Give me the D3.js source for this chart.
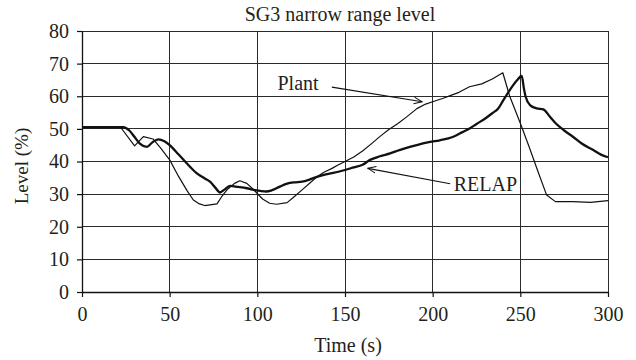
<!DOCTYPE html>
<html>
<head>
<meta charset="utf-8">
<script src="https://cdn.jsdelivr.net/npm/d3@7/dist/d3.min.js"></script>
<style>
  html, body { margin: 0; padding: 0; background: #fff; }
  svg { display: block; }
  text { font-family: "Liberation Serif", "Times New Roman", serif; fill: #231f20; }
</style>
</head>
<body>
<svg id="chart" width="636" height="360"></svg>
<script>
// SG3 narrow range level: measured plant data vs. RELAP simulation
const title = "SG3 narrow range level";
const xLabel = "Time (s)";
const yLabel = "Level (%)";
const xTicks = [0, 50, 100, 150, 200, 250, 300];
const yTicks = [0, 10, 20, 30, 40, 50, 60, 70, 80];

const plantTime = [0, 22, 30, 35, 40.5, 45, 50, 55, 60, 63.5, 67, 70, 74, 77, 80, 83, 87, 90, 94, 97, 100, 103, 107, 111, 117, 121, 125.5, 130, 134, 138, 142.6, 146, 150, 155, 160, 165, 170, 175, 180, 185, 191, 196, 200, 206, 210, 215, 221, 228, 234, 240, 244, 250, 255, 260, 265, 270, 280, 290, 300];
const plantLevel = [50.5, 50.5, 44.8, 47.6, 46.9, 44, 40.5, 35.5, 31, 28.2, 27, 26.5, 26.8, 27, 29.5, 31.5, 33.3, 34.1, 33.3, 31.8, 30.2, 28.5, 27.2, 26.9, 27.4, 29.2, 31.3, 33.4, 35.3, 36.7, 37.9, 38.9, 40, 41.4, 43.2, 45.4, 47.7, 49.8, 51.6, 53.6, 56.2, 57.6, 58.3, 59.4, 60.2, 61.2, 62.9, 63.8, 65.3, 67.2, 59.9, 51.7, 44.5, 37, 29.7, 27.7, 27.7, 27.5, 28.0];

const relapTime = [0, 23.5, 27, 30, 33, 37, 40, 43.5, 47, 50, 55, 60, 65, 70, 73, 76, 78.7, 81, 84.4, 89, 94, 98, 101.5, 105, 108.4, 112.9, 117, 121, 125.5, 130, 134, 138, 142.6, 150, 155, 160, 164.3, 170, 175.7, 181, 187, 192, 198.5, 204, 211.8, 217, 221.3, 225, 230, 234, 237.5, 240, 244, 248, 250.8, 252, 253, 255.5, 259.3, 263.1, 266.9, 270, 275, 280, 285, 291.6, 296, 300];
const relapLevel = [50.5, 50.5, 49.5, 47.5, 45.5, 44.5, 45.8, 46.8, 46.2, 45, 42.2, 39.3, 36.6, 34.8, 33.8, 32, 30.5, 31.3, 32.5, 32.2, 31.8, 31.3, 31, 30.8, 31.2, 32.3, 33.2, 33.6, 33.8, 34.5, 35.3, 35.9, 36.4, 37.4, 38.2, 39, 40.5, 41.6, 42.5, 43.5, 44.5, 45.2, 46, 46.5, 47.6, 49, 50.2, 51.5, 53.2, 54.8, 56.3, 58.5, 61.9, 64.8, 66.2, 62.5, 59.9, 57.3, 56.3, 56, 53.7, 51.8, 49.5, 47.6, 45.5, 43.5, 42.1, 41.3];

// Annotation labels with arrows, positioned in data units
const annotations = [
  { text: "Plant", textAt: [111.5, 62], from: [142.5, 62.8], to: [194, 58.3] },
  { text: "RELAP", textAt: [212, 31], from: [210, 33.2], to: [163, 37.9] }
];

const width = 636, height = 360;
const margin = { top: 31, right: 28, bottom: 68, left: 82 };
const svg = d3.select("#chart");

const x = d3.scaleLinear().domain([0, 300]).range([margin.left, width - margin.right]);
const y = d3.scaleLinear().domain([0, 80]).range([height - margin.bottom, margin.top]);

const gridColor = "#2b2b2b";

// Grid
const grid = svg.append("g");
grid.selectAll("line.v").data(xTicks).join("line")
  .attr("x1", d => x(d)).attr("x2", d => x(d))
  .attr("y1", y(0)).attr("y2", y(80))
  .attr("stroke", gridColor).attr("stroke-width", 1).attr("shape-rendering", "crispEdges");
grid.selectAll("line.h").data(yTicks).join("line")
  .attr("x1", x(0)).attr("x2", x(300))
  .attr("y1", d => y(d)).attr("y2", d => y(d))
  .attr("stroke", gridColor).attr("stroke-width", 1).attr("shape-rendering", "crispEdges");

// Axes
const xAxis = svg.append("g")
  .attr("transform", `translate(0,${y(0)})`)
  .call(d3.axisBottom(x).tickValues(xTicks).tickSize(5).tickPadding(10).tickSizeOuter(0));
const yAxis = svg.append("g")
  .attr("transform", `translate(${x(0)},0)`)
  .call(d3.axisLeft(y).tickValues(yTicks).tickSize(5).tickPadding(8).tickSizeOuter(0));
[xAxis, yAxis].forEach(g => {
  g.select(".domain").attr("stroke", "#111").attr("stroke-width", 1.3);
  g.selectAll(".tick line").attr("stroke", "#111").attr("stroke-width", 1.2);
  g.selectAll(".tick text").style("font-family", "'Liberation Serif', serif")
    .style("font-size", "20px").attr("fill", "#231f20");
});

// Series
const plantLine = d3.line().x((d, i) => x(plantTime[i])).y(d => y(d)).curve(d3.curveLinear);
const relapLine = d3.line().x((d, i) => x(relapTime[i])).y(d => y(d)).curve(d3.curveMonotoneX);

svg.append("path").datum(plantLevel).attr("d", plantLine)
  .attr("fill", "none").attr("stroke", "#111").attr("stroke-width", 1.2).attr("stroke-linejoin", "round");
svg.append("path").datum(relapLevel).attr("d", relapLine)
  .attr("fill", "none").attr("stroke", "#111").attr("stroke-width", 2.3).attr("stroke-linejoin", "round");

// Open arrowhead marker
svg.append("defs").append("marker")
  .attr("id", "arrow").attr("viewBox", "0 -6 12 12")
  .attr("refX", 11).attr("refY", 0)
  .attr("markerWidth", 9).attr("markerHeight", 9)
  .attr("markerUnits", "userSpaceOnUse")
  .attr("orient", "auto")
  .append("path").attr("d", "M0,-4.5L11,0L0,4.5")
  .attr("fill", "none").attr("stroke", "#111").attr("stroke-width", 1.3);

const ann = svg.append("g");
annotations.forEach(a => {
  ann.append("line")
    .attr("x1", x(a.from[0])).attr("y1", y(a.from[1]))
    .attr("x2", x(a.to[0])).attr("y2", y(a.to[1]))
    .attr("stroke", "#111").attr("stroke-width", 1.1)
    .attr("marker-end", "url(#arrow)");
  ann.append("text")
    .attr("x", x(a.textAt[0])).attr("y", y(a.textAt[1]))
    .style("font-size", "20px")
    .text(a.text);
});

// Titles
svg.append("text").attr("x", 340).attr("y", 21).attr("text-anchor", "middle")
  .style("font-size", "20px").text(title);
svg.append("text").attr("x", (x(0) + x(300)) / 2 + 3).attr("y", 352).attr("text-anchor", "middle")
  .style("font-size", "20px").text(xLabel);
svg.append("text")
  .attr("transform", `translate(28,166) rotate(-90)`)
  .attr("text-anchor", "middle")
  .style("font-size", "19px").text(yLabel);
</script>
</body>
</html>
